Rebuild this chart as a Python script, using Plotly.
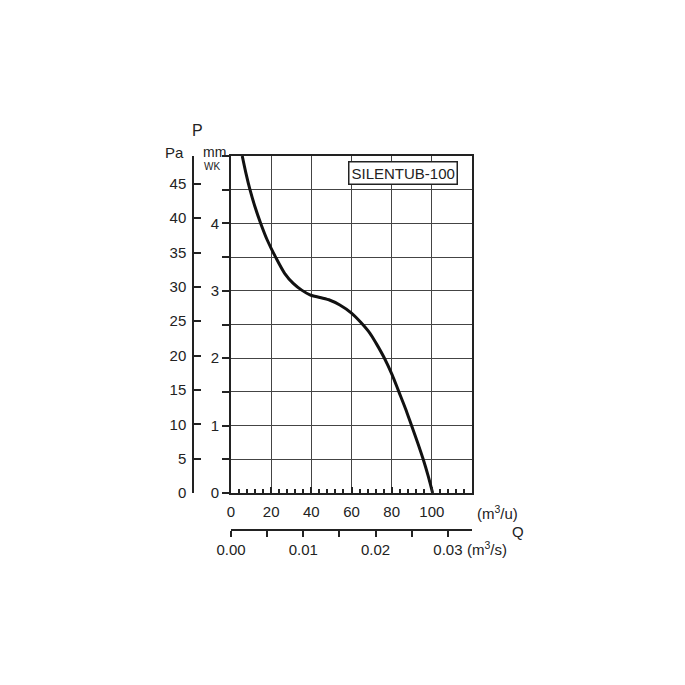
import plotly.graph_objects as go

# Data: flow Q (m3/h) vs pressure P (mm WK)
flow_m3h = [5.6, 7.4, 9.45, 11.9, 14.8, 18.1, 22.2, 26.7, 31, 35.2, 39.3, 44.3, 49.3, 54.2,
            60, 64.7, 69.2, 72.3, 76.4, 80.3, 83.6, 86.9, 89.9, 92.9, 95.7, 98.2, 100.4]
pressure_mmwk = [5.0, 4.75, 4.5, 4.25, 4.0, 3.75, 3.5, 3.26, 3.11, 3.01, 2.94, 2.90, 2.86, 2.79,
                 2.67, 2.53, 2.37, 2.22, 2.0, 1.75, 1.5, 1.25, 1.0, 0.75, 0.5, 0.25, 0.0]

x_ticks = [0, 20, 40, 60, 80, 100]
mm_ticks = [0, 1, 2, 3, 4]
pa_ticks = [0, 5, 10, 15, 20, 25, 30, 35, 40, 45]
qs_ticks = [0, 0.01, 0.02, 0.03]
qs_labels = ["0.00", "0.01", "0.02", "0.03"]
title_text = "SILENTUB-100"

OFF = 8  # page body margin
W = H = 669
L, T = 142, 148
PW, PH = 322, 429
R = W - L - PW
B = H - T - PH


def px(x):
    return (x - OFF - L) / PW


def py(y):
    return (T + PH - (y - OFF)) / PH


FONT = "Liberation Sans, Arial, sans-serif"
TC = "#222222"
FS = 15

fig = go.Figure()
fig.add_trace(go.Scatter(x=flow_m3h, y=pressure_mmwk, mode="lines",
                         line=dict(color="#111111", width=3, shape="spline", smoothing=0.8),
                         xaxis="x", yaxis="y", showlegend=False, hoverinfo="skip"))
fig.add_trace(go.Scatter(x=[None], y=[None], xaxis="x2", yaxis="y2", showlegend=False))

xd0 = px(231)
yd0 = py(493)

fig.update_layout(
    width=W, height=H,
    margin=dict(l=L, r=R, t=T, b=B),
    paper_bgcolor="white", plot_bgcolor="white",
    font=dict(family=FONT, size=FS, color=TC),
    xaxis=dict(domain=[xd0, 1], range=[0, 120], anchor="y",
               tickvals=x_ticks, ticks="inside", ticklen=6, tickwidth=1.5, tickcolor="#222",
               showline=True, linewidth=2, linecolor="#222", mirror=True,
               showgrid=True, gridcolor="#444", gridwidth=1, zeroline=False,
               minor=dict(dtick=4, ticks="inside", ticklen=4, tickwidth=1.5, tickcolor="#222", showgrid=False),
               tickfont=dict(size=FS, color=TC), ticklabelstandoff=4),
    yaxis=dict(domain=[yd0, 1], range=[0, 5], anchor="x",
               tickvals=mm_ticks, ticks="outside", ticklen=7, tickwidth=1.5,
               tickcolor="#222", showline=True, linewidth=2, linecolor="#222", mirror=True,
               showgrid=True, gridcolor="#444", gridwidth=1, zeroline=False,
               minor=dict(dtick=0.5, ticks="outside", ticklen=7, tickwidth=1.5, tickcolor="#222",
                          showgrid=True, gridcolor="#444", gridwidth=1),
               tickfont=dict(size=FS, color=TC), ticklabelstandoff=0),
    yaxis2=dict(overlaying="y", anchor="free", position=px(193), side="left",
                range=[0, 5 * 9.81], tickvals=pa_ticks, ticks="inside", ticklen=7, tickwidth=1.5,
                tickcolor="#222", showline=True, linewidth=1.5, linecolor="#222",
                showgrid=False, zeroline=False, tickfont=dict(size=FS, color=TC),
                ticklabelstandoff=3),
    xaxis2=dict(overlaying="x", anchor="free", position=py(530), side="bottom",
                range=[0, 120 / 3600], tickvals=qs_ticks, ticktext=qs_labels,
                ticks="outside", ticklen=6, tickwidth=1.5, tickcolor="#222",
                minor=dict(dtick=0.005, ticks="outside", ticklen=6, tickwidth=1.5, tickcolor="#222", showgrid=False),
                showline=True, linewidth=1.5, linecolor="#222", showgrid=False, zeroline=False,
                tickfont=dict(size=FS, color=TC)),
)

ann = [
    dict(text="P", x=px(197), y=py(130), size=16),
    dict(text="Pa", x=px(174), y=py(152), size=15),
    dict(text="mm", x=px(214), y=py(152), size=14),
    dict(text="WK", x=px(212), y=py(166), size=10),
    dict(text="(m<sup>3</sup>/u)", x=px(497), y=py(512), size=FS),
    dict(text="Q", x=px(518), y=py(531), size=FS),
    dict(text="(m<sup>3</sup>/s)", x=px(487), y=py(548), size=FS),
]
for a in ann:
    fig.add_annotation(text=a["text"], x=a["x"], y=a["y"], xref="paper", yref="paper",
                       showarrow=False, xanchor="center", yanchor="middle",
                       font=dict(family=FONT, size=a["size"], color=TC))

fig.add_annotation(text=title_text, x=px(403), y=py(172.5), xref="paper", yref="paper",
                   showarrow=False, xanchor="center", yanchor="middle",
                   font=dict(family=FONT, size=15, color=TC),
                   bordercolor="#222", borderwidth=1.5, borderpad=2, bgcolor="white")

fig.write_html("out.html")
